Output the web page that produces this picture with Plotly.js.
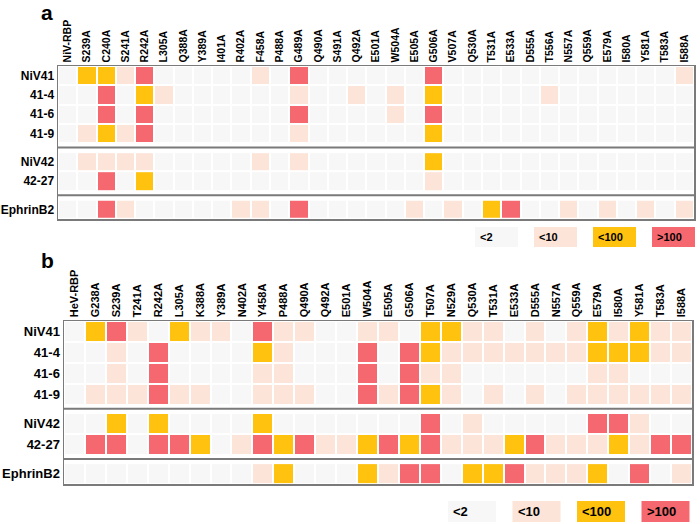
<!DOCTYPE html>
<html>
<head>
<meta charset="utf-8">
<script src="https://cdn.plot.ly/plotly-3.0.1.min.js"></script>
<style>body{margin:0;} #chart{width:700px;height:524px;}</style>
</head>
<body>
<div id="chart"></div>
<script>
// levels: 0 = <2, 1 = <10, 2 = <100, 3 = >100
var colsA = ['NiV-RBP','S239A','C240A','S241A','R242A','L305A','Q388A','Y389A','I401A','R402A','F458A','P488A','G489A','Q490A','S491A','Q492A','E501A','W504A','E505A','G506A','V507A','Q530A','T531A','E533A','D555A','T556A','N557A','Q559A','E579A','I580A','Y581A','T583A','I588A'];
var colsB = ['HeV-RBP','G238A','S239A','T241A','R242A','L305A','K388A','Y389A','N402A','Y458A','P488A','Q490A','Q492A','E501A','W504A','E505A','G506A','T507A','N529A','Q530A','T531A','E533A','D555A','N557A','Q559A','E579A','I580A','Y581A','T583A','I588A'];

var rowsG1 = ['NiV41','41-4','41-6','41-9'];
var rowsG2 = ['NiV42','42-27'];
var rowsG3 = ['EphrinB2'];

// panel a
var aNiV41 = [0,2,2,1,3,0,0,0,0,0,1,0,3,0,0,0,0,0,0,3,0,0,0,0,0,0,0,0,0,0,0,0,1];
var a41_4  = [0,0,3,0,2,1,0,0,0,0,0,0,1,0,0,1,0,1,0,2,0,0,0,0,0,1,0,0,0,0,0,0,0];
var a41_6  = [0,0,3,0,3,0,0,0,0,0,0,0,3,0,0,0,0,1,0,3,0,0,0,0,0,0,0,0,0,0,0,0,0];
var a41_9  = [0,1,2,1,3,0,0,0,0,0,0,0,1,0,0,0,0,0,0,2,0,0,0,0,0,0,0,0,0,0,0,0,0];
var aNiV42 = [0,1,1,1,1,0,0,0,0,0,1,0,1,0,0,0,0,0,0,2,0,0,0,0,0,0,0,0,0,0,0,0,0];
var a42_27 = [0,0,3,0,2,0,0,0,0,0,0,0,0,0,0,0,0,0,0,1,0,0,0,0,0,0,0,0,0,0,0,0,0];
var aEphB2 = [0,0,3,1,0,0,0,0,0,1,1,0,3,0,0,0,0,0,1,0,1,0,2,3,0,0,1,0,1,0,1,0,1];

// panel b
var bNiV41 = [0,2,3,1,0,2,1,1,0,3,1,1,0,0,1,1,0,2,2,1,1,0,1,0,1,2,1,2,1,1];
var b41_4  = [0,0,1,0,3,0,0,0,0,2,1,0,0,0,3,0,3,2,1,1,1,1,1,1,1,2,2,2,1,1];
var b41_6  = [0,0,1,0,3,0,0,0,0,1,1,0,0,0,3,0,3,1,1,0,0,0,0,0,0,1,1,0,0,0];
var b41_9  = [0,1,1,1,3,1,1,0,0,1,1,1,0,0,3,1,3,2,1,0,1,0,1,0,1,1,1,1,1,1];
var bNiV42 = [0,0,2,0,2,0,0,0,0,2,0,0,0,0,0,0,0,3,0,1,0,0,0,0,0,3,3,1,0,0];
var b42_27 = [0,3,3,0,3,3,2,0,1,3,2,3,1,1,2,3,2,3,1,1,1,2,3,1,1,1,2,1,3,3];
var bEphB2 = [0,0,0,0,0,0,0,0,0,1,2,0,0,0,2,1,3,3,0,2,2,3,1,1,1,2,0,3,0,1];

var legendLabels = ['&lt;2', '&lt;10', '&lt;100', '&gt;100'];
var levelColors = ['#f7f7f7', '#fde4d8', '#ffc20f', '#f5686f'];

var FONT = '"Liberation Sans", Arial, sans-serif';
var W = 700, H = 524;

var cscale = [];
levelColors.forEach(function (c, i) {
  cscale.push([i / 4, c]);
  cscale.push([(i + 1) / 4, c]);
});

function px(x) { return x / W; }
function py(y) { return 1 - y / H; }

var data = [];
var shapes = [];
var annotations = [];
var layout = {
  width: W, height: H,
  margin: {l: 0, r: 0, t: 0, b: 0},
  paper_bgcolor: 'white', plot_bgcolor: 'white',
  font: {family: FONT, color: '#000'},
  showlegend: false
};

function panel(n, cols, groups, gap, box, tickSize, rowSize) {
  var xa = n === 1 ? 'x' : 'x' + n, ya = n === 1 ? 'y' : 'y' + n;
  var pos = 0, tickvals = [], ticktext = [], seps = [];
  groups.forEach(function (g, gi) {
    if (gi > 0) { seps.push(pos - 0.5 + gap / 2); pos += gap; }
    var ys = [];
    g.rows.forEach(function (r) { ys.push(pos); tickvals.push(pos); ticktext.push(r); pos += 1; });
    data.push({
      type: 'heatmap', x: cols, y: ys, z: g.z,
      xaxis: xa, yaxis: ya,
      colorscale: cscale, zmin: 0, zmax: 4, showscale: false,
      xgap: 2, ygap: 2, hoverinfo: 'skip'
    });
  });
  layout['xaxis' + (n === 1 ? '' : n)] = {
    domain: [px(box[0]), px(box[1])], anchor: ya, side: 'top',
    type: 'category', range: [-0.5, cols.length - 0.5],
    tickangle: -90, ticks: '', showgrid: false, zeroline: false,
    showline: true, mirror: true, linecolor: '#7a7a7a', linewidth: 1.5,
    tickfont: {family: FONT, size: tickSize, weight: 'bold', color: '#000'}
  };
  layout['yaxis' + (n === 1 ? '' : n)] = {
    domain: [py(box[3]), py(box[2])], anchor: xa,
    range: [pos - 0.5, -0.5], tickmode: 'array', tickvals: tickvals, ticktext: ticktext,
    ticks: '', showgrid: false, zeroline: false,
    showline: true, mirror: true, linecolor: '#7a7a7a', linewidth: 1.5,
    tickfont: {family: FONT, size: rowSize, weight: 'bold', color: '#000'}
  };
  seps.forEach(function (s) {
    shapes.push({type: 'line', xref: xa + ' domain', yref: ya, x0: 0, x1: 1, y0: s, y1: s,
      line: {color: '#7a7a7a', width: 2}});
  });
}

panel(1, colsA, [
  {rows: rowsG1, z: [aNiV41, a41_4, a41_6, a41_9]},
  {rows: rowsG2, z: [aNiV42, a42_27]},
  {rows: rowsG3, z: [aEphB2]}
], 0.47, [58, 694, 66, 219], 10.5, 12);

panel(2, colsB, [
  {rows: rowsG1, z: [bNiV41, b41_4, b41_6, b41_9]},
  {rows: rowsG2, z: [bNiV42, b42_27]},
  {rows: rowsG3, z: [bEphB2]}
], 0.4, [64, 692, 321, 484], 11, 13);

// legends
function legend(x0, step, w, y0, h, size) {
  legendLabels.forEach(function (lab, i) {
    var left = x0 + i * step;
    shapes.push({type: 'rect', xref: 'paper', yref: 'paper',
      x0: px(left), x1: px(left + w), y0: py(y0 + h), y1: py(y0),
      fillcolor: levelColors[i], line: {width: 0}});
    annotations.push({xref: 'paper', yref: 'paper', x: px(left + 3), y: py(y0 + h / 2),
      xanchor: 'left', yanchor: 'middle', showarrow: false, text: lab,
      font: {family: FONT, size: size, weight: 'bold', color: '#000'}});
  });
}
legend(475, 59, 43, 227, 20, 11);
legend(448, 64.5, 48, 501, 21, 13);

// panel letters
[['a', 47, 0], ['b', 47, 248]].forEach(function (p) {
  annotations.push({xref: 'paper', yref: 'paper', x: px(p[1]), y: py(p[2]),
    xanchor: 'center', yanchor: 'top', showarrow: false, text: p[0],
    borderpad: 0, font: {family: FONT, size: 21, weight: 'bold', color: '#000'}});
});

layout.shapes = shapes;
layout.annotations = annotations;

Plotly.newPlot('chart', data, layout, {displayModeBar: false, staticPlot: true});
</script>
</body>
</html>
